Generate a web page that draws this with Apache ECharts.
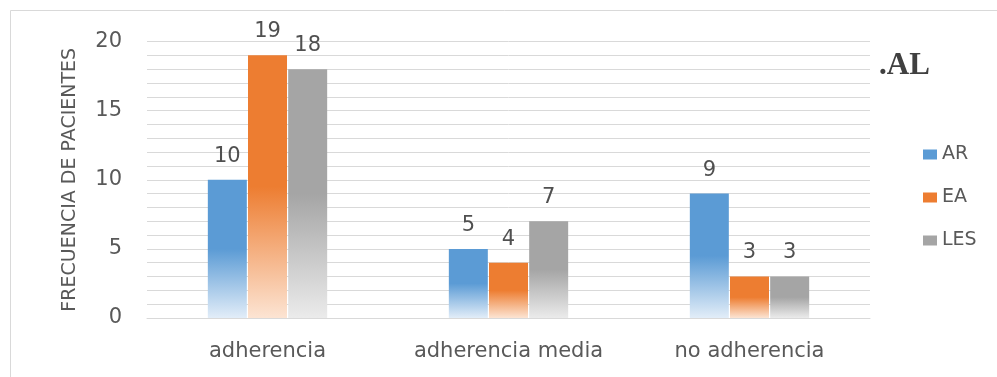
<!DOCTYPE html>
<html><head><meta charset="utf-8">
<script src="https://cdn.jsdelivr.net/npm/echarts@6/dist/echarts.min.js"></script>
<style>html,body{margin:0;padding:0;background:#fff;}#c{width:997px;height:377px;}</style>
</head><body><div id="c"></div>
<script>
const categories = ['adherencia', 'adherencia media', 'no adherencia'];
const seriesNames = ['AR', 'EA', 'LES'];
const arValues = [10, 5, 9];
const eaValues = [19, 4, 3];
const lesValues = [18, 7, 3];
const yTicks = [0, 5, 10, 15, 20];

const solid = ['#5b9bd5', '#ed7d31', '#a5a5a5'];
const light = ['#e2edf8', '#fce4d3', '#ebebeb'];
const font = '"DejaVu Sans", "Open Sans", sans-serif';

function grad(i) {
  return new echarts.graphic.LinearGradient(0, 0, 0, 1, [
    { offset: 0, color: solid[i] },
    { offset: 0.5, color: solid[i] },
    { offset: 1, color: light[i] }
  ]);
}

const values = [arValues, eaValues, lesValues];
const chart = echarts.init(document.getElementById('c'), null, { renderer: 'canvas' });
chart.setOption({
  backgroundColor: '#fff',
  animation: false,
  graphic: [
    { type: 'rect', shape: { x: 10.5, y: 10.5, width: 1100, height: 500 }, style: { fill: 'none', stroke: '#d9d9d9', lineWidth: 1 }, silent: true },
    { type: 'text', left: 879, top: 50, style: { text: '.AL', font: 'bold 31px "Liberation Serif", serif', fill: '#404040' } }
  ],
  legend: {
    orient: 'vertical',
    left: 918,
    top: 140,
    itemWidth: 14,
    itemHeight: 10,
    itemGap: 24,
    icon: 'rect',
    textStyle: { fontFamily: font, fontSize: 19, color: '#595959' },
    data: seriesNames.map((n, i) => ({ name: n, itemStyle: { color: solid[i] } }))
  },
  grid: { left: 147, right: 127, top: 41.5, bottom: 59 },
  xAxis: {
    type: 'category',
    data: categories,
    axisLine: { lineStyle: { color: '#d9d9d9' } },
    axisTick: { show: false },
    axisLabel: { interval: 0, fontFamily: font, fontSize: 21, color: '#595959', margin: 23 }
  },
  yAxis: {
    type: 'value',
    min: yTicks[0],
    max: yTicks[yTicks.length - 1],
    interval: 5,
    name: 'FRECUENCIA DE PACIENTES',
    nameLocation: 'middle',
    nameGap: 67,
    nameTextStyle: { fontFamily: font, fontSize: 19, color: '#595959' },
    axisLine: { show: false },
    axisTick: { show: false },
    axisLabel: { fontFamily: font, fontSize: 21, color: '#595959', margin: 25 },
    splitLine: { lineStyle: { color: '#d9d9d9' } },
    minorTick: { show: false, splitNumber: 5 },
    minorSplitLine: { show: true, lineStyle: { color: '#d9d9d9' } }
  },
  series: seriesNames.map((n, i) => ({
    name: n,
    type: 'bar',
    data: values[i],
    barWidth: 39,
    barGap: '3%',
    itemStyle: { color: grad(i) },
    label: { show: true, position: 'top', distance: 13, fontFamily: font, fontSize: 21, color: '#505050' }
  }))
});
</script></body></html>
